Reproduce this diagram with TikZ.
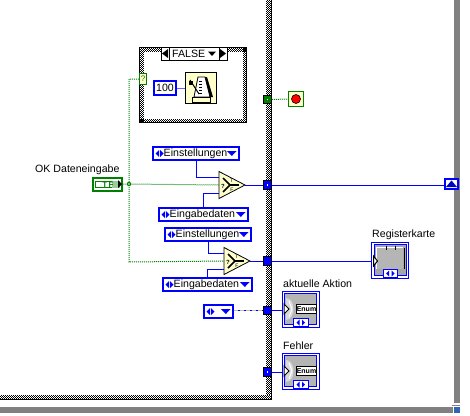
\documentclass[tikz,border=0pt]{standalone}
\usepackage{fontspec}
\setmainfont{Liberation Sans}
\definecolor{lvblue}{RGB}{0,0,255}
\definecolor{lvgreen}{RGB}{0,128,0}
\definecolor{lvdark}{RGB}{0,100,0}
\definecolor{pale}{RGB}{255,255,204}
\definecolor{lvgrey}{RGB}{128,128,128}
\definecolor{body}{RGB}{181,181,181}
\definecolor{dashgrey}{RGB}{190,190,190}
\definecolor{corner}{RGB}{50,100,180}
\tikzset{
  lbl/.style={inner sep=0pt,anchor=west,font=\fontsize{10.6}{12}\selectfont,text=black},
  tunnel/.style={draw=black,line width=1pt,fill=lvblue,minimum size=8.5pt,inner sep=0pt,outer sep=0pt},
  bwire/.style={draw=lvblue,line width=1pt},
  gwire/.style={draw=lvgreen,line width=1pt,dash pattern=on 1pt off 1pt},
  gdash/.style={draw=dashgrey,line width=1pt,dash pattern=on 4pt off 2pt},
  ctl/.style={draw=lvblue,line width=2pt,fill=white,inner sep=0pt,outer sep=1pt},
  tri/.style={fill=lvblue,draw=none},
}
% checker strip: x1 x2 y1 y2 vertical
\newcommand{\checkV}[4]{%
  \foreach \cx [count=\ci] in {#1,...,#2}{%
    \pgfmathparse{int(mod(\ci,2))}\let\pp\pgfmathresult
    \draw[line width=1pt,dash pattern=on 1pt off 1pt,dash phase=\pp pt] (\cx+.5,#3)--(\cx+.5,#4);}}
\newcommand{\checkH}[4]{%
  \foreach \cy [count=\ci] in {#3,...,#4}{%
    \pgfmathparse{int(mod(\ci,2))}\let\pp\pgfmathresult
    \draw[line width=1pt,dash pattern=on 1pt off 1pt,dash phase=\pp pt] (#1,\cy+.5)--(#2,\cy+.5);}}
% enum constant: name, left, top, right, bottom, text
\newcommand{\enumC}[6]{%
  \node[ctl,minimum width={#4-#2-2},minimum height={#5-#3-2}] (#1) at ({(#2+#4)/2},{(#3+#5)/2}) {};
  \fill[tri] (#2+7,{(#3+#5)/2-3.5})--(#2+3.5,{(#3+#5)/2})--(#2+7,{(#3+#5)/2+3.5})--cycle;
  \fill[tri] (#2+8,{(#3+#5)/2-3.5})--(#2+11.5,{(#3+#5)/2})--(#2+8,{(#3+#5)/2+3.5})--cycle;
  \fill[tri] (#4-13,{(#3+#5)/2-2.5})--(#4-3.5,{(#3+#5)/2-2.5})--(#4-8.2,{(#3+#5)/2+2.5})--cycle;
  \node[lbl] at (#2+11.5,{(#3+#5)/2+.3}) {#6};}
% select primitive: name, left x, apex y
\newcommand{\selectP}[3]{%
  \draw[black,line width=.8pt,fill=pale] (#2,#3-13.5)--(#2+26,#3)--(#2,#3+13.5)--cycle;
  \coordinate (#1s) at (#2,#3-8); \coordinate (#1m) at (#2,#3); \coordinate (#1f) at (#2,#3+8); \coordinate (#1o) at (#2+26,#3);
  \draw[black,line width=1.6pt] (#2+4,#3-7)--(#2+11,#3)--(#2+4,#3+7);
  \draw[black,line width=2pt] (#2+11,#3)--(#2+20,#3);
  \node[inner sep=0pt,font=\fontsize{6}{6}\selectfont\bfseries] at (#2+4,#3+1) {?};
  \node[inner sep=0pt,font=\fontsize{5}{5}\selectfont] at (#2+13,#3-4) {T};
  \node[inner sep=0pt,font=\fontsize{5}{5}\selectfont] at (#2+13,#3+4.5) {F};}
% enum indicator at top-left
\newcommand{\enumI}[3]{%
  \begin{scope}[shift={(#2,#3)}]
  \node[draw=lvblue,line width=1pt,minimum width=37pt,minimum height=36pt,inner sep=0pt,outer sep=.5pt,fill=white] (#1) at (18.5,18) {};
  \fill[body] (3,2.5) rectangle (34,33);
  \draw[lvblue,line width=1pt] (2.5,2.5) rectangle (34.5,33);
  \fill[gray!30] (4,7)..controls (14,7) and (14,29)..(4,29)--cycle;
  \draw[white,line width=1pt] (7,10)--(10,18)--(7,26);
  \fill[white,draw=black,line width=.6pt] (14.5,13) rectangle (34,22.5);
  \node[inner sep=0pt,font=\fontsize{7}{7}\selectfont\bfseries] at (24.5,18) {Enum};
  \fill[white,draw=black,line width=1pt] (2,13)--(7,18)--(2,23)--cycle;
  \fill[white,draw=lvblue,line width=1pt] (11.5,27) rectangle (26,35.5);
  \fill[tri] (17.5,28.5)--(14.5,31.5)--(17.5,34.5)--cycle;
  \fill[tri] (20,28.5)--(23,31.5)--(20,34.5)--cycle;
  \end{scope}}
\begin{document}
\begin{tikzpicture}[x=1pt,y=-1pt]
\useasboundingbox (0,0) rectangle (470,415);
% loop frame
\checkV{266}{270}{0}{395}
\checkH{0}{271}{395}{398}
\fill[black] (271,0) rectangle (272,400);
\fill[black] (0,399) rectangle (272,400);
% outer bars
\fill[lvgrey] (454,0) rectangle (460,403);
\fill[lvgrey] (452,405) rectangle (460,406);
\fill[lvgrey] (0,407) rectangle (453,413);
\fill[corner] (454,407) rectangle (460,413);
% case structure
\checkV{140}{143}{48}{122}
\checkV{243}{246}{48}{122}
\checkH{140}{246}{48}{51}
\checkH{140}{246}{119}{122}
\draw[black,line width=1pt] (139.5,47.5) rectangle (246.5,122.5);
\node[draw=black,line width=1pt,fill=white,minimum width=50pt,minimum height=13pt,inner sep=0pt] (sel) at (194,53.5) {};
\node[lbl] at (172,54) {FALSE};
\fill[black] (208,51.5)--(216,51.5)--(212,56)--cycle;
\node[draw=black,line width=1pt,fill=white,minimum width=8pt,minimum height=13pt,inner sep=0pt] (sl) at (165,53.5) {};
\node[draw=black,line width=1pt,fill=white,minimum width=8pt,minimum height=13pt,inner sep=0pt] (sr) at (223,53.5) {};
\fill[black] (168,49)--(162,53.5)--(168,58)--cycle;
\fill[black] (220,49)--(226,53.5)--(220,58)--cycle;
% wires first
\node[draw=lvgreen,line width=1pt,fill=pale,minimum width=7pt,minimum height=11pt,inner sep=0pt,outer sep=.5pt,font=\fontsize{8}{8}\selectfont,text=lvgreen] (q) at (143,79) {?};
\coordinate (j) at (129,184);
\coordinate (jt) at (129,79);
\coordinate (jb) at (129,262);
% constant 100 and wait
\node[fill=pale,draw=black,line width=1pt,minimum width=31pt,minimum height=31pt,inner sep=0pt,outer sep=.5pt] (wait) at (201,88) {};
\node[ctl,minimum width=22pt,minimum height=14pt,font=\fontsize{10.6}{12}\selectfont] (c100) at (165,88) {100};
\draw[draw=lvblue!60,line width=1pt] (c100.east)--(wait.west);
\begin{scope}[shift={(185,72)}]
\fill[white,draw=black,line width=.8pt] (13,5)--(20,5)--(25,25)--(9,25)--cycle;
\draw[black,line width=.8pt,fill=pale] (7,25) rectangle (25,30);
\fill[black] (20,5)--(22,5)--(28,25)--(25,25)--cycle;
\draw[black,line width=1pt] (5,8)--(14,22);
\fill[black] (4,9) rectangle (8,13);
\foreach \yy in {9,12,15,18,21} \draw[black,line width=.6pt] (14,\yy)--(17,\yy);
\end{scope}
% stop
\node[draw=black,fill=lvgreen,line width=1pt,minimum size=8.5pt,inner sep=0pt,outer sep=0pt] (stopT) at (267.5,99.5) {};
\fill[white] (266.7,98.7) rectangle (268.3,100.3);
\node[draw=lvgreen,line width=1pt,fill=pale,minimum size=15pt,inner sep=0pt,outer sep=.5pt] (stop) at (296,99) {};
\fill[red,draw=black,line width=.6pt] (296,99) circle (4.5);
\draw[gwire] (stopT.east)--(stop.west);
% Boolean terminal
\node[lbl] at (35,169.5) {OK Dateneingabe};
\node[draw=lvgreen,line width=2pt,fill=white,minimum width=29pt,minimum height=13pt,inner sep=0pt,outer sep=1pt] (tf) at (107,184) {};
\draw[lvgreen,line width=1pt] (95,181) rectangle (119,187);
\fill[lvgreen!40] (112,181) rectangle (120,188);
\node[inner sep=0pt,font=\fontsize{8}{8}\selectfont\bfseries,text=lvgreen] at (108,184.5) {T\,F};
\fill[black] (118,180)--(122,184)--(118,188)--cycle;
% selects
\selectP{A}{219}{185}
\selectP{B}{224}{261}
% tunnels
\node[tunnel] (t1) at (267.5,185) {};
\fill[white] (266.7,184.2) rectangle (268.3,185.8);
\node[tunnel] (t2) at (267.5,261) {};
\node[tunnel] (t3) at (267.5,310.5) {};
\node[tunnel] (t4) at (267.5,372) {};
\fill[white] (266.7,371.2) rectangle (268.3,372.8);
% enum constants
\enumC{e1}{152}{146}{240}{161}{Einstellungen}
\enumC{d1}{158}{207}{249}{222}{Eingabedaten}
\enumC{e2}{164}{227}{252}{242}{Einstellungen}
\enumC{d2}{162}{277}{253}{292}{Eingabedaten}
\enumC{c3}{203}{304}{234}{319}{}
% indicators
\enumI{akt}{282}{291}
\enumI{feh}{282}{353}
\node[lbl] at (283,283.5) {aktuelle Aktion};
\node[lbl] at (283,346) {Fehler};
% Registerkarte
\node[lbl] at (372,234.5) {Registerkarte};
\node[draw=lvblue,line width=1pt,minimum width=37pt,minimum height=36pt,inner sep=0pt,outer sep=.5pt,fill=white] (reg) at (390,260) {};
\begin{scope}[shift={(371.5,242)}]
\draw[lvblue,line width=1pt,fill=lvgrey!70] (2.5,2.5) rectangle (34.5,33);
\fill[body] (4,6) rectangle (31,27);
\fill[white] (4,5) rectangle (31,6);\fill[white] (4,5) rectangle (5,27);
\fill[black] (32,6) rectangle (33.5,27);
\fill[black] (14,4) rectangle (15,8);\fill[black] (23,4) rectangle (24,8);
\fill[white,draw=lvblue,line width=1pt] (11.5,27) rectangle (26,35.5);
\fill[tri] (17.5,28.5)--(14.5,31.5)--(17.5,34.5)--cycle;
\fill[tri] (20,28.5)--(23,31.5)--(20,34.5)--cycle;
\fill[white,draw=black,line width=1pt] (2,14)--(6,19)--(2,24)--cycle;
\end{scope}
% top-level indicator
\node[draw=lvblue,line width=2pt,fill=white,minimum width=13pt,minimum height=10pt,inner sep=0pt,outer sep=1pt] (ind) at (451.5,184) {};
\fill[lvblue!80!black] (451.5,180.5)--(457,187)--(446,187)--cycle;
% wires
\draw[gwire] (q.west)--(jt)--(jb)--(Bm);
\draw[gwire] (tf.east)--(j)--(Am);
\fill[lvgreen] (j) circle (2.2); \fill[white] (j) circle (.8);
\draw[bwire] (e1.south)|-(As);
\draw[bwire] (d1.north)|-(Af);
\draw[bwire] (e2.south)|-(Bs);
\draw[bwire] (d2.north)|-(Bf);
\draw[bwire] (Ao)--(t1.west);
\draw[bwire] (Bo)--(t2.west);
\draw[bwire] (t1.east)--(t1.east-|ind.west);
\draw[bwire] (t2.east)--(t2.east-|reg.west);
\draw[bwire] (c3.east|-t3.west)--(t3.west);
\draw[gdash] (c3.east|-t3.west)--(t3.west);
\draw[bwire] (t3.east)--(t3.east-|akt.west);
\draw[bwire] (t4.east)--(t4.east-|feh.west);
\end{tikzpicture}
\end{document}
